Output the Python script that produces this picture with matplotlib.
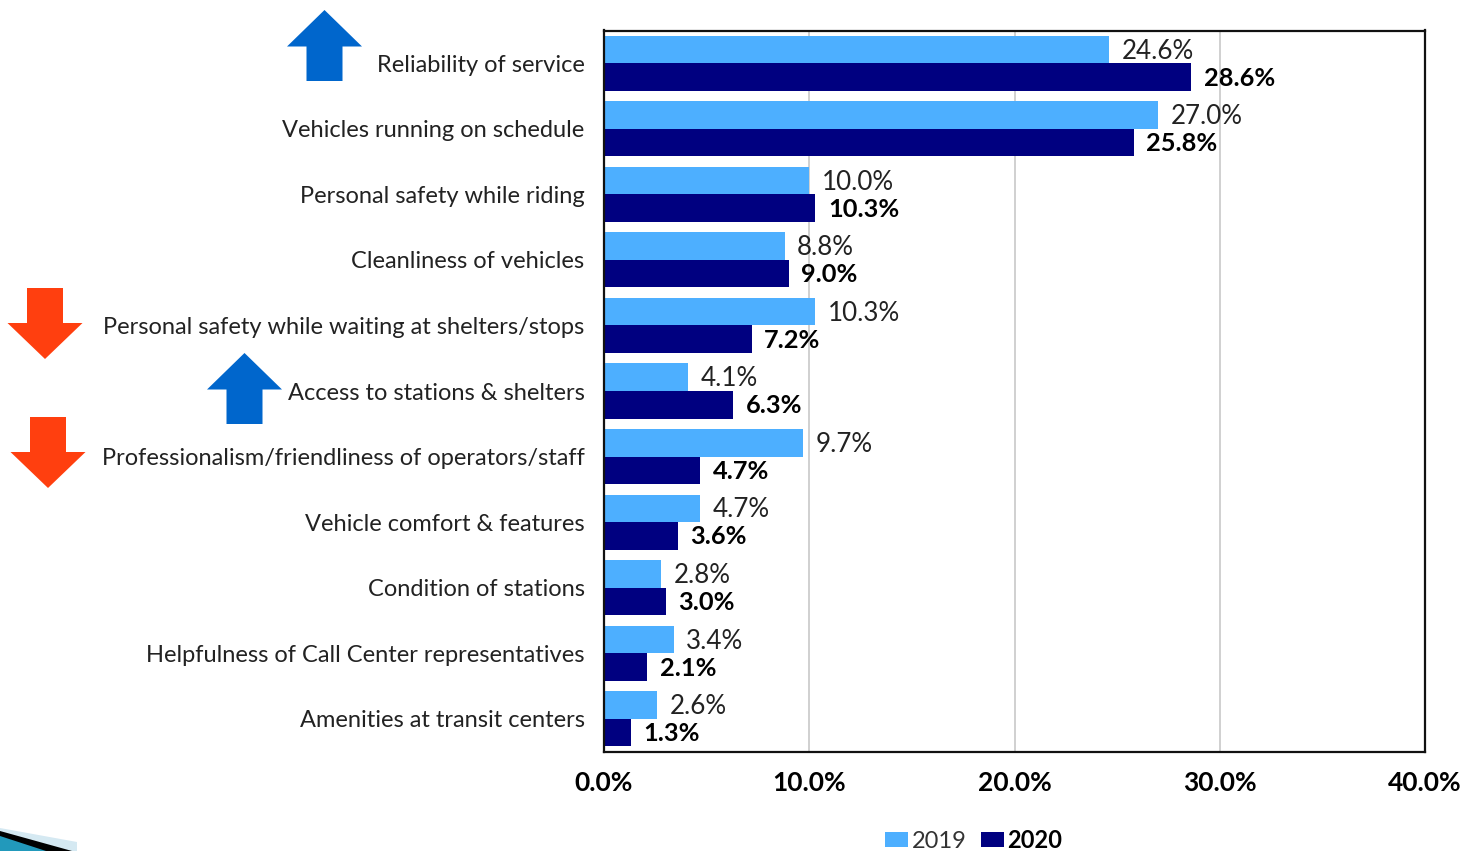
import matplotlib
matplotlib.use("Agg")
import matplotlib.pyplot as plt
import numpy as np
from matplotlib.patches import Polygon

W, H = 1466, 851

categories = ["Reliability of service", "Vehicles running on schedule",
              "Personal safety while riding", "Cleanliness of vehicles",
              "Personal safety while waiting at shelters/stops",
              "Access to stations & shelters",
              "Professionalism/friendliness of operators/staff",
              "Vehicle comfort & features", "Condition of stations",
              "Helpfulness of Call Center representatives",
              "Amenities at transit centers"]
v2019 = [24.6, 27.0, 10.0, 8.8, 10.3, 4.1, 9.7, 4.7, 2.8, 3.4, 2.6]
v2020 = [28.6, 25.8, 10.3, 9.0, 7.2, 6.3, 4.7, 3.6, 3.0, 2.1, 1.3]
xticks = [0, 10, 20, 30, 40]

plt.rcParams['font.family'] = ['Lato', 'DejaVu Sans']
plt.rcParams['font.size'] = 18

fig = plt.figure(figsize=(W / 100, H / 100), dpi=100)
ax = fig.add_axes([604 / W, 1 - 751.5 / H, (1425 - 604) / W, (751.5 - 30.5) / H])

y = np.arange(len(categories))
h = 0.42
b1 = ax.barh(y - h / 2, v2019, h, color="#4dafff", label="2019", zorder=2)
b2 = ax.barh(y + h / 2, v2020, h, color="#000080", label="2020", zorder=2)

for yy, v in zip(y, v2019):
    ax.annotate(f"{v:.1f}%", (v, yy - h / 2), xytext=(9, -1.2), textcoords="offset points",
                va="center", ha="left", color="#222222", fontsize=18.7, zorder=3)
for yy, v in zip(y, v2020):
    ax.annotate(f"{v:.1f}%", (v, yy + h / 2), xytext=(9, -0.8), textcoords="offset points",
                va="center", ha="left", color="black", fontweight="bold", fontsize=18.3, zorder=3)

ax.set_xlim(0, 40)
ax.set_ylim(len(categories) - 0.5, -0.5)
ax.set_yticks(y)
ax.set_yticklabels(categories, color="#222222", fontsize=17)
ax.set_xticks(xticks)
ax.set_xticklabels([f"{t:.1f}%" for t in xticks], fontweight="bold", color="black", fontsize=19)
ax.tick_params(axis="both", length=0)
ax.tick_params(axis="y", pad=14)
ax.tick_params(axis="x", pad=14)
ax.grid(axis="x", color="#c8c8c8", linewidth=1.2, zorder=0)
for s in ax.spines.values():
    s.set_linewidth(1.6)
    s.set_color("#111111")

leg = fig.legend(handles=[b1, b2], loc="lower left", bbox_to_anchor=(885 / W, -0.001), ncol=2,
                 frameon=False, fontsize=17, handlelength=0.98, handleheight=0.65, handletextpad=0.15,
                 columnspacing=0.6, borderpad=0, borderaxespad=0)
leg.get_texts()[1].set_fontweight("bold")
leg.get_texts()[0].set_color("#333333")


# arrows and the slide corner sit outside the axes, so these are in image pixels
def px_poly(points, color):
    pts = [(px / W, 1 - py / H) for px, py in points]
    fig.add_artist(Polygon(pts, closed=True, transform=fig.transFigure,
                           facecolor=color, edgecolor="none"))


def up_arrow(cx, top, color="#0066cc"):
    px_poly([(cx, top), (cx + 37.5, top + 36.5), (cx + 18, top + 36.5), (cx + 18, top + 71),
             (cx - 18, top + 71), (cx - 18, top + 36.5), (cx - 37.5, top + 36.5)], color)


def down_arrow(cx, top, color="#ff3f0f"):
    px_poly([(cx - 18, top), (cx + 18, top), (cx + 18, top + 35), (cx + 37.5, top + 35),
             (cx, top + 71), (cx - 37.5, top + 35), (cx - 18, top + 35)], color)


up_arrow(324.5, 10)
up_arrow(244.5, 353)
down_arrow(45, 288)
down_arrow(48, 417)

px_poly([(0, 828), (77, 842), (77, 851), (0, 851)], "#d5e9f2")
px_poly([(0, 831), (72, 851), (0, 851)], "#000000")
px_poly([(0, 836), (46, 851), (0, 851)], "#2299bb")

fig.savefig("out.png", dpi=100)
